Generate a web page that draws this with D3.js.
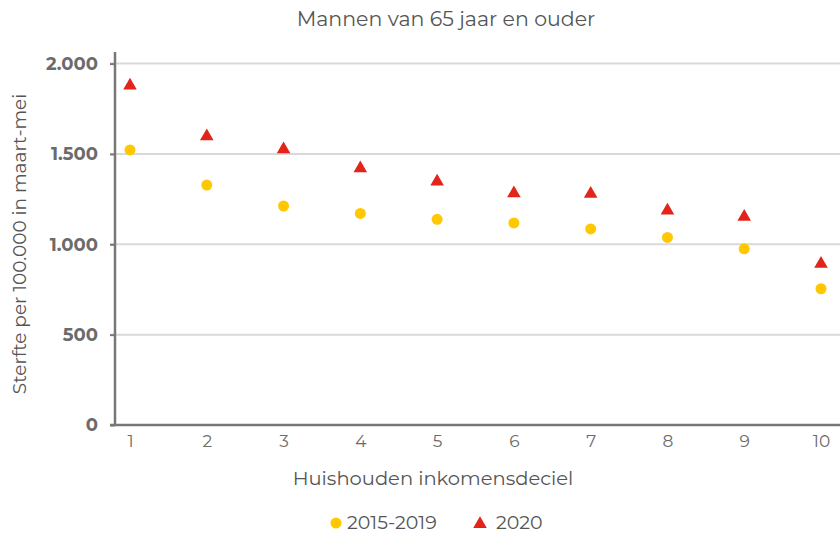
<!DOCTYPE html>
<html><head><meta charset="utf-8">
<script src="https://cdn.jsdelivr.net/npm/d3@7"></script>
<style>body{margin:0;background:#fff}svg{display:block}</style>
</head><body>
<script>
const deciles = [1,2,3,4,5,6,7,8,9,10];
const values2015_2019 = [1522,1328,1212,1171,1138,1118,1085,1038,975,754];
const values2020 = [1878,1597,1525,1420,1347,1282,1279,1186,1152,892];
const yTicks = [0,500,1000,1500,2000];
const seriesNames = ["2015-2019","2020"];
const title = "Mannen van 65 jaar en ouder";
const xTitle = "Huishouden inkomensdeciel";
const yTitle = "Sterfte per 100.000 in maart-mei";

const W=840,H=533;
const font = "Montserrat, 'DejaVu Sans', sans-serif";
const svg = d3.select("body").append("svg").attr("width",W).attr("height",H)
  .style("font-family",font);
const x = d3.scaleLinear().domain([1,10]).range([130,821]);
const y = d3.scaleLinear().domain([0,2000]).range([425,63.6]);
const axisLeft = 115, plotRight = 840;

// gridlines
svg.append("g").selectAll("line").data(yTicks.filter(d=>d>0)).join("line")
  .attr("x1",110).attr("x2",plotRight).attr("y1",d=>y(d)).attr("y2",d=>y(d))
  .attr("stroke","#d9d9d9").attr("stroke-width",2);

// y axis
const ya = svg.append("g").attr("transform",`translate(${axisLeft},0)`)
  .call(d3.axisLeft(y).tickValues(yTicks).tickSize(5).tickPadding(12)
    .tickFormat(d=>d3.format(",")(d).replace(/,/g,".")));
ya.select(".domain").remove();
ya.selectAll(".tick line").attr("stroke","#777").attr("stroke-width",2);
ya.selectAll("text").attr("fill","#6b6b6b").style("font-size","18px").style("font-weight","bold").style("font-family",font);
svg.append("line").attr("x1",axisLeft).attr("x2",axisLeft).attr("y1",52).attr("y2",y(0)+1)
  .attr("stroke","#777").attr("stroke-width",2.5);

// x axis
const xa = svg.append("g").attr("transform",`translate(0,${y(0)})`)
  .call(d3.axisBottom(x).tickValues(deciles).tickSize(0).tickPadding(10).tickFormat(d3.format("d")));
xa.select(".domain").remove();
xa.selectAll("text").attr("fill","#6b6b6b").style("font-size","17px").style("font-family",font);
svg.append("line").attr("x1",110).attr("x2",plotRight).attr("y1",y(0)).attr("y2",y(0))
  .attr("stroke","#777").attr("stroke-width",2.5);

// points
const cCol="#FFC800", tCol="#E3241A";
svg.append("g").selectAll("circle").data(deciles).join("circle")
  .attr("cx",d=>x(d)).attr("cy",(d,i)=>y(values2015_2019[i])).attr("r",5.5).attr("fill",cCol);
const tri = d3.symbol().type(d3.symbolTriangle).size(80);
svg.append("g").selectAll("path").data(deciles).join("path")
  .attr("d",tri).attr("transform",(d,i)=>`translate(${x(d)},${y(values2020[i])})`).attr("fill",tCol);

// titles
svg.append("text").attr("x",446).attr("y",26).attr("text-anchor","middle")
  .attr("fill","#555").style("font-size","20.5px").text(title);
svg.append("text").attr("x",433).attr("y",485).attr("text-anchor","middle")
  .attr("fill","#555").style("font-size","19.5px").text(xTitle);
svg.append("text").attr("transform","translate(26,244) rotate(-90)").attr("text-anchor","middle")
  .attr("fill","#555").style("font-size","18.5px").text(yTitle);

// legend
const lg = svg.append("g");
lg.append("circle").attr("cx",336).attr("cy",523).attr("r",5.5).attr("fill",cCol);
lg.append("text").attr("x",347).attr("y",529).attr("fill","#555").style("font-size","19px").text(seriesNames[0]);
lg.append("path").attr("d",tri).attr("transform","translate(480,524)").attr("fill",tCol);
lg.append("text").attr("x",496).attr("y",529).attr("fill","#555").style("font-size","19px").text(seriesNames[1]);
</script>
</body></html>
